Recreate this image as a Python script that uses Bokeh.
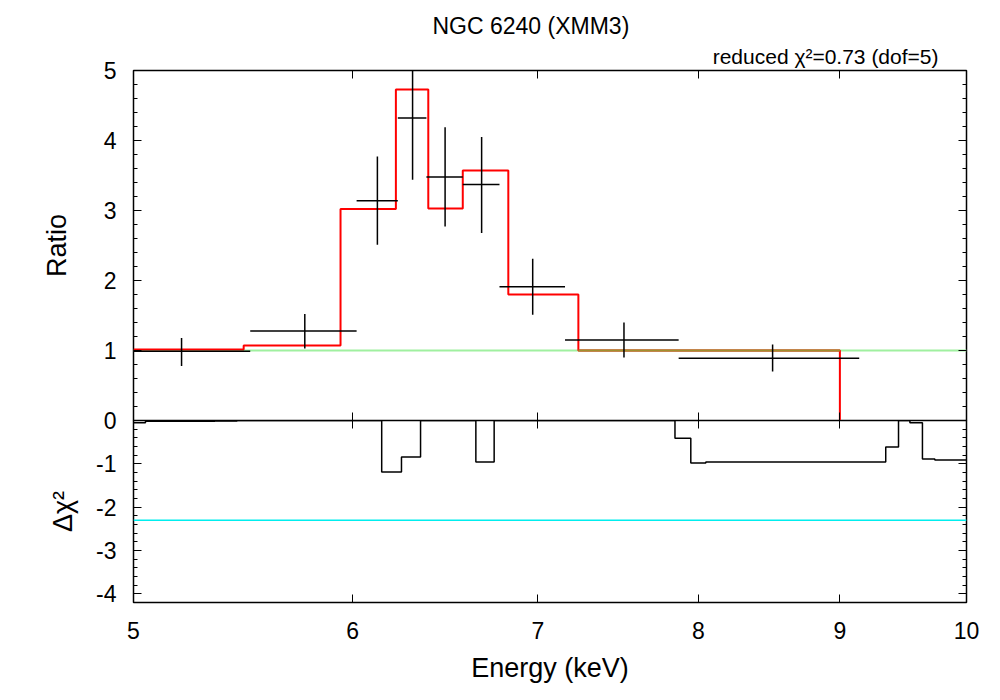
from bokeh.plotting import figure
from bokeh.models import (Range1d, FixedTicker, LogAxis, LinearAxis, Title,
                          BasicTickFormatter, ColumnDataSource)
from bokeh.layouts import column
from bokeh.embed import file_html
from bokeh.resources import INLINE
import numpy as np

# ---------------- data ----------------
# ratio data points (energy bins in keV)
e_lo = [4.898, 5.51, 6.02, 6.23, 6.38, 6.576, 6.78, 7.16, 7.87]
e_hi = [5.51, 6.02, 6.23, 6.38, 6.576, 6.78, 7.16, 7.87, 9.146]
e_mid = [5.204, 5.766, 6.125, 6.307, 6.48, 6.68, 6.97, 7.52, 8.51]
ratio = [0.99, 1.28, 3.14, 4.32, 3.48, 3.37, 1.91, 1.15, 0.89]
ratio_lo = [0.78, 1.03, 2.51, 3.44, 2.77, 2.68, 1.51, 0.90, 0.70]
ratio_hi = [1.18, 1.52, 3.77, 5.20, 4.19, 4.05, 2.31, 1.40, 1.086]

# model (step, value holds from edge[i] to edge[i+1])
model_edges = [5.0, 5.48, 5.94, 6.22, 6.39, 6.576, 6.83, 7.24, 9.0]
model_vals = [1.015, 1.07, 3.02, 4.73, 3.03, 3.57, 1.80, 1.00, 0.0]

# delta chi^2 (step)
dchi_edges = [5.0, 5.05, 5.35, 5.45, 6.147, 6.249, 6.349, 6.648, 6.75, 7.846,
              7.95, 8.05, 9.35, 9.45, 9.54, 9.64, 9.74, 10.0]
dchi_vals = [-0.05, -0.02, -0.01, 0.0, -1.19, -0.84, 0.0, -0.96, 0.0, -0.41,
             -0.98, -0.96, -0.61, 0.0, -0.05, -0.89, -0.91, -0.92]

ratio_ref = 1.0
dchi_ref = -2.3

x_ticks = [5, 6, 7, 8, 9, 10]
ratio_ticks = [0, 1, 2, 3, 4, 5]
dchi_ticks = [-4, -3, -2, -1, 0]

title_text = "NGC 6240 (XMM3)"
subtitle_text = "reduced \u03c7\u00b2=0.73 (dof=5)"

FONT = "Liberation Sans"

# ---------------- helpers ----------------
x_range = Range1d(5, 10)


def style_axis(ax, ticks, labels=True, size="23px"):
    ax.axis_line_color = None
    ax.major_tick_in = 8
    ax.major_tick_out = 0
    ax.minor_tick_in = 4
    ax.minor_tick_out = 0
    ax.major_tick_line_color = "black"
    ax.minor_tick_line_color = "black"
    ax.major_label_text_font = FONT
    ax.major_label_text_color = "black"
    ax.axis_label_text_font = FONT
    ax.axis_label_text_color = "black"
    ax.axis_label_text_font_style = "normal"
    ax.axis_label_text_font_size = "27px"
    ax.formatter = BasicTickFormatter(use_scientific=False)
    if labels:
        ax.major_label_text_font_size = size
        ax.major_label_standoff = 17
    else:
        ax.major_label_overrides = {t: "" for t in ticks}
        ax.major_label_text_font_size = "0px"
        ax.major_label_standoff = 0


# ---------------- top panel ----------------
top = figure(width=992, height=434, x_axis_type="log", x_range=x_range,
             y_range=Range1d(0, 5), output_backend="svg", toolbar_location=None,
             min_border_left=133, min_border_right=26, min_border_top=70,
             min_border_bottom=14)
top.grid.visible = False
top.outline_line_color = "black"
top.outline_line_width = 1.5
top.background_fill_color = "white"

minor_r = [round(v, 1) for v in np.arange(0, 5.01, 0.2) if round(v, 1) not in ratio_ticks]
top.xaxis.ticker = FixedTicker(ticks=x_ticks, minor_ticks=[])
top.yaxis.ticker = FixedTicker(ticks=ratio_ticks, minor_ticks=minor_r)
style_axis(top.xaxis[0], x_ticks, labels=False)
style_axis(top.yaxis[0], ratio_ticks, labels=True)
top.yaxis.axis_label = "Ratio"
top.yaxis.axis_label_standoff = 29

ax_top = LogAxis(ticker=FixedTicker(ticks=x_ticks, minor_ticks=[]))
style_axis(ax_top, x_ticks, labels=False)
top.add_layout(ax_top, "above")
ax_right = LinearAxis(ticker=FixedTicker(ticks=ratio_ticks, minor_ticks=minor_r))
style_axis(ax_right, ratio_ticks, labels=False)
top.add_layout(ax_right, "right")

top.add_layout(Title(text=subtitle_text, align="right", text_font=FONT,
                     text_font_size="21px", text_font_style="normal",
                     text_color="black", offset=28, standoff=5), "above")
top.add_layout(Title(text=title_text, align="left", text_font=FONT,
                     text_font_size="23px", text_font_style="normal",
                     text_color="black", offset=299, standoff=3), "above")

# reference line at 1
top.line(x=[5, 10], y=[ratio_ref, ratio_ref], line_color="#a0f0a0", line_width=2)

# model
top.step(x=model_edges, y=model_vals, mode="after", line_color="#ff0000", line_width=2)
# the part of the model lying on the reference line
top.segment(x0=[model_edges[-2]], x1=[model_edges[-1]],
            y0=[model_vals[-2]], y1=[model_vals[-2]],
            line_color="#a09030", line_width=2)

# data crosses
src = ColumnDataSource(dict(e_lo=e_lo, e_hi=e_hi, e_mid=e_mid, r=ratio,
                            r_lo=ratio_lo, r_hi=ratio_hi))
top.segment(x0="e_lo", x1="e_hi", y0="r", y1="r", source=src,
            line_color="black", line_width=1.5)
top.segment(x0="e_mid", x1="e_mid", y0="r_lo", y1="r_hi", source=src,
            line_color="black", line_width=1.5)

# ---------------- bottom panel ----------------
bot = figure(width=992, height=270, x_axis_type="log", x_range=x_range,
             y_range=Range1d(-4.2, 0), output_backend="svg", toolbar_location=None,
             min_border_left=133, min_border_right=26, min_border_top=0,
             min_border_bottom=88)
bot.grid.visible = False
bot.outline_line_color = "black"
bot.outline_line_width = 1.5
bot.border_fill_color = None
bot.styles = {"margin-top": "-14px"}

minor_d = [round(v, 1) for v in np.arange(-4.2, 0.01, 0.2) if round(v, 1) not in dchi_ticks]
bot.xaxis.ticker = FixedTicker(ticks=x_ticks, minor_ticks=[])
bot.yaxis.ticker = FixedTicker(ticks=dchi_ticks, minor_ticks=minor_d)
style_axis(bot.xaxis[0], x_ticks, labels=True)
style_axis(bot.yaxis[0], dchi_ticks, labels=True)
# hyphen-minus labels; the shared 0 is labelled by the upper panel
bot.yaxis.major_label_overrides = {t: (str(t) if t != 0 else "") for t in dchi_ticks}
bot.xaxis.axis_label = "Energy (keV)"
bot.xaxis.axis_label_standoff = 11
bot.xaxis.major_label_standoff = 19
bot.yaxis.axis_label = "\u0394\u03c7\u00b2"
bot.yaxis.axis_label_standoff = 15

ax_top2 = LogAxis(ticker=FixedTicker(ticks=x_ticks, minor_ticks=[]))
style_axis(ax_top2, x_ticks, labels=False)
bot.add_layout(ax_top2, "above")
ax_right2 = LinearAxis(ticker=FixedTicker(ticks=dchi_ticks, minor_ticks=minor_d))
style_axis(ax_right2, dchi_ticks, labels=False)
bot.add_layout(ax_right2, "right")

bot.line(x=[5, 10], y=[dchi_ref, dchi_ref], line_color="#00eeee", line_width=1.5)
bot.step(x=dchi_edges, y=dchi_vals, mode="after", line_color="black", line_width=1.5)

layout = column(top, bot)
open("out.html", "w").write(file_html(layout, INLINE))
